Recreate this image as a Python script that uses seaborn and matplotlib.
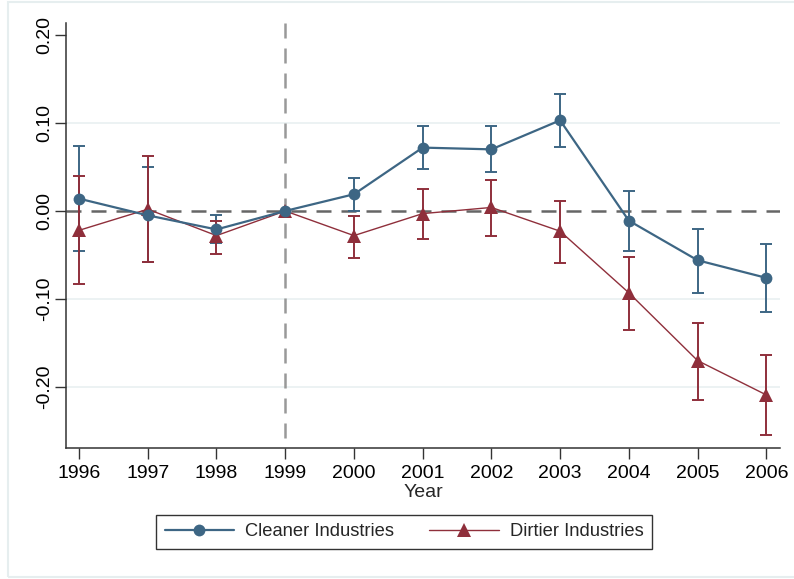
import numpy as np
import pandas as pd
import matplotlib
matplotlib.use("Agg")
import matplotlib.pyplot as plt
from matplotlib.patches import Rectangle
from matplotlib.lines import Line2D
import seaborn as sns

years = [1996, 1997, 1998, 1999, 2000, 2001, 2002, 2003, 2004, 2005, 2006]

cleaner = [0.014, -0.005, -0.021, 0.000, 0.019, 0.072, 0.070, 0.103, -0.011, -0.056, -0.076]
cleaner_hi = [0.074, 0.050, -0.005, np.nan, 0.037, 0.096, 0.097, 0.133, 0.023, -0.021, -0.038]
cleaner_lo = [-0.046, -0.058, -0.036, np.nan, 0.000, 0.048, 0.044, 0.073, -0.046, -0.093, -0.115]

dirtier = [-0.022, 0.002, -0.028, 0.000, -0.028, -0.003, 0.004, -0.023, -0.093, -0.170, -0.209]
dirtier_hi = [0.040, 0.062, -0.011, np.nan, -0.006, 0.025, 0.035, 0.011, -0.052, -0.127, -0.164]
dirtier_lo = [-0.083, -0.058, -0.049, np.nan, -0.053, -0.032, -0.028, -0.059, -0.135, -0.215, -0.255]

y_ticks = [-0.20, -0.10, 0.00, 0.10, 0.20]
y_tick_labels = ["-0.20", "-0.10", "0.00", "0.10", "0.20"]
series_names = ["Cleaner Industries", "Dirtier Industries"]

blue = "#3D6684"
red = "#8F2F3B"

sns.set_theme(style="white")
plt.rcParams["font.family"] = ["Liberation Sans", "DejaVu Sans"]

fig = plt.figure(figsize=(7.94, 5.79), dpi=100)
fig.patch.set_facecolor("white")
ax = fig.add_axes([0.0831, 0.2263, 0.8993, 0.7340])

# faint outer frame of the graph region
fig.patches.append(Rectangle((8 / 794, 2 / 579), 1.2, 575 / 579, transform=fig.transFigure,
                             fill=False, edgecolor="#E6EEEF", linewidth=1.5, zorder=0))

df = pd.DataFrame({
    "Year": years * 2,
    "value": cleaner + dirtier,
    "group": [series_names[0]] * len(years) + [series_names[1]] * len(years),
})

# reference lines and grid
for yv in [-0.20, -0.10, 0.10]:
    ax.axhline(yv, color="#EAF1F2", lw=1.3, zorder=0)
ax.axhline(0, color="#666666", lw=1.8, dashes=(6, 4), zorder=1)
ax.plot([1999, 1999], [0.2136, -0.2693], color="#999999", lw=1.8, dashes=(6, 4), zorder=1)

# confidence intervals
ax.errorbar(years, cleaner, yerr=[np.array(cleaner) - np.array(cleaner_lo),
                                  np.array(cleaner_hi) - np.array(cleaner)],
            fmt="none", ecolor=blue, elinewidth=1.4, capsize=4.5, capthick=1.4, zorder=2)
ax.errorbar(years, dirtier, yerr=[np.array(dirtier) - np.array(dirtier_lo),
                                  np.array(dirtier_hi) - np.array(dirtier)],
            fmt="none", ecolor=red, elinewidth=1.4, capsize=4.5, capthick=1.4, zorder=2)

# point estimates
sns.lineplot(data=df[df["group"] == series_names[0]], x="Year", y="value", ax=ax,
             color=blue, lw=1.6, marker="o", markersize=8.5, markeredgewidth=0,
             legend=False, zorder=4)
sns.lineplot(data=df[df["group"] == series_names[1]], x="Year", y="value", ax=ax,
             color=red, lw=1.0, marker="^", markersize=9.5, markeredgewidth=0,
             legend=False, zorder=3)

ax.set_xlim(1995.81, 2006.2)
ax.set_ylim(-0.2693, 0.2136)
ax.set_xticks(years)
ax.set_xticklabels([str(y) for y in years], fontsize=14)
ax.set_yticks(y_ticks)
ax.set_yticklabels(y_tick_labels, fontsize=14, rotation=90, va="center")
ax.set_xlabel("Year", fontsize=14, labelpad=2)
ax.set_ylabel("")

for side in ["top", "right"]:
    ax.spines[side].set_visible(False)
for side in ["left", "bottom"]:
    ax.spines[side].set_color("#333333")
    ax.spines[side].set_linewidth(1.1)
ax.tick_params(axis="both", direction="out", length=8, width=1.0, color="#333333",
               colors="black", pad=4, left=True, bottom=True)
ax.tick_params(axis="y", pad=1)

handles = [
    Line2D([], [], color=blue, lw=1.6, marker="o", markersize=8.5, markeredgewidth=0),
    Line2D([], [], color=red, lw=1.0, marker="^", markersize=9.5, markeredgewidth=0),
]
leg = fig.legend(handles, series_names, loc="center", bbox_to_anchor=(404 / 794, 1 - 532 / 579),
                 ncol=2, fontsize=13.2, frameon=True, fancybox=False, handlelength=3.8,
                 handletextpad=0.6, columnspacing=1.9, borderpad=0.45)
leg.get_frame().set_edgecolor("black")
leg.get_frame().set_linewidth(1.0)

fig.savefig("out.png", dpi=100, facecolor="white")
